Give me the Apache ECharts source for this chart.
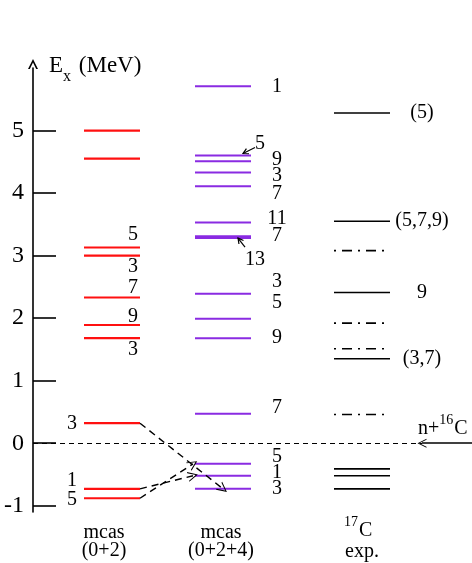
<!DOCTYPE html>
<html>
<head>
<meta charset="utf-8">
<script src="https://cdn.jsdelivr.net/npm/echarts@6/dist/echarts.min.js"></script>
<style>
  html, body { margin: 0; padding: 0; background: #fff; }
  #levels { width: 472px; height: 563px; }
</style>
</head>
<body>
<div id="levels"></div>
<script>
// level energies (MeV) and spin labels (2J) per column
const redE = [5.00, 4.55, 3.13, 3.00, 2.33, 1.89, 1.68, 0.32, -0.73, -0.88];
const redSpin = ['', '', '5', '3', '7', '9', '3', '3', '1', '5'];
const purpleE = [5.71, 4.60, 4.51, 4.33, 4.11, 3.53, 3.31, 3.28, 2.39, 1.99, 1.68, 0.47, -0.33, -0.52, -0.73];
const purpleSpin = ['1', '5', '9', '3', '7', '11', '7', '13', '3', '5', '9', '7', '5', '1', '3'];
const expE = [5.28, 3.55, 3.08, 2.41, 1.92, 1.51, 1.35, 0.46, -0.41, -0.52, -0.73];
const expSpin = ['(5)', '(5,7,9)', '', '9', '', '', '(3,7)', '', '', '', ''];
const expTentative = [false, false, true, false, true, true, false, true, false, false, false];
// transitions: [red level index, purple level index]
const transitions = [[7, 14], [8, 13], [9, 12]];
const yTicks = [-1, 0, 1, 2, 3, 4, 5];

// layout (x axis runs in pixels from the y axis)
const cols = { red: [51, 107], purple: [162, 218], exp: [301, 357] };
const redLabelPos = [null, null, [-7, -13], [-7, 11], [-7, -10], [-7, -8], [-7, 12], [-68, 1], [-68, -8], [-68, 2]];
const purpleLabelPos = [[26, 1], [9, -12], [26, -1], [26, 3], [26, 8], [26, -4], [26, 0], [4, 22],
  [26, -12], [26, -16], [26, 0], [26, -6], [26, -7], [26, -3], [26, 0]];
// small pointer arrows: index -> [tailDx, tailDy, tipDx, tipDy] relative to line end
const purplePointers = { 1: [4, -8, -8, -2], 7: [-6, 9, -13, 0] };
const arrowEndX = [190, 160, 160];

const FONT = '"Liberation Serif", "Times New Roman", serif';
const chevron = 'path://M0,12 L6,0 L12,12 L10.6,12 L6,2.6 L1.4,12 Z';
const axisChevron = 'path://M0,12 L6,0 L12,12 L9.8,12 L6,4.2 L2.2,12 Z';

function makeLevels(name, E, spins, range, color, width, labelPos, dashFn, pointers) {
  return {
    name: name,
    type: 'custom',
    clip: false,
    data: E.map((e, i) => [i, e]),
    renderItem: function (params, api) {
      const i = api.value(0);
      const e = api.value(1);
      const a = api.coord([range[0], e]);
      const b = api.coord([range[1], e]);
      const children = [{
        type: 'line',
        shape: { x1: a[0], y1: a[1], x2: b[0], y2: b[1] },
        style: { stroke: color, lineWidth: width, lineDash: dashFn ? dashFn(i) : null }
      }];
      const lp = labelPos[i];
      if (spins[i] && lp) {
        children.push({
          type: 'text',
          x: b[0] + lp[0], y: b[1] + lp[1],
          style: { text: spins[i], font: '20px ' + FONT, fill: '#000', align: 'center', verticalAlign: 'middle' }
        });
      }
      if (pointers && pointers[i]) {
        const p = pointers[i];
        const tx = b[0] + p[2], ty = b[1] + p[3];
        const ang = Math.atan2(b[1] + p[1] - ty, b[0] + p[0] - tx);
        const h = 6, s = 0.5;
        children.push({
          type: 'polyline',
          shape: { points: [[b[0] + p[0], b[1] + p[1]], [tx, ty]] },
          style: { stroke: '#000', lineWidth: 1.2, fill: null }
        }, {
          type: 'polyline',
          shape: { points: [
            [tx + h * Math.cos(ang + s), ty + h * Math.sin(ang + s)],
            [tx, ty],
            [tx + h * Math.cos(ang - s), ty + h * Math.sin(ang - s)]
          ] },
          style: { stroke: '#000', lineWidth: 1.2, fill: null }
        });
      }
      return { type: 'group', children: children };
    }
  };
}

const chart = echarts.init(document.getElementById('levels'), null, { renderer: 'canvas' });

const option = {
  animation: false,
  backgroundColor: '#fff',
  grid: { left: 33, right: 0, top: 68, bottom: 51 },
  xAxis: { type: 'value', min: 0, max: 439, show: false },
  yAxis: {
    type: 'value',
    min: -1.1,
    max: 6.0,
    splitLine: { show: false },
    axisLine: {
      show: true,
      lineStyle: { color: '#000', width: 1.6 },
      symbol: ['none', axisChevron],
      symbolSize: [10, 10],
      symbolOffset: [0, 4]
    },
    axisTick: { show: true, inside: true, length: 23, customValues: yTicks, lineStyle: { color: '#000', width: 1.6 } },
    axisLabel: { customValues: yTicks, color: '#000', fontSize: 24, fontFamily: FONT, margin: 9 }
  },
  series: [
    {
      name: 'threshold',
      type: 'lines',
      coordinateSystem: 'cartesian2d',
      silent: true,
      lineStyle: { color: '#000', width: 1, type: [5, 4], opacity: 1 },
      symbol: 'none',
      data: [{ coords: [[0, 0], [389, 0]] }]
    },
    {
      name: 'n16C',
      type: 'lines',
      coordinateSystem: 'cartesian2d',
      silent: true,
      lineStyle: { color: '#000', width: 1.6, opacity: 1 },
      symbol: ['none', chevron],
      symbolSize: 9,
      data: [{ coords: [[439, 0], [389, 0]] }]
    },
    makeLevels('mcas (0+2)', redE, redSpin, cols.red, '#ff1010', 2.2, redLabelPos),
    makeLevels('mcas (0+2+4)', purpleE, purpleSpin, cols.purple, '#8a2be2', 2, purpleLabelPos, null, purplePointers),
    makeLevels('17C exp.', expE, expSpin, cols.exp, '#000', 1.6, expE.map(() => [32, 0]),
      (i) => expTentative[i] ? [2, 6, 10, 6] : null),
    {
      name: 'transitions',
      type: 'lines',
      coordinateSystem: 'cartesian2d',
      silent: true,
      lineStyle: { color: '#000', width: 1.4, type: [7, 5], opacity: 1 },
      symbol: ['none', chevron],
      symbolSize: 10,
      data: transitions.map((t, k) => ({ coords: [[cols.red[1], redE[t[0]]], [arrowEndX[k], purpleE[t[1]]]] }))
    }
  ],
  graphic: [
    {
      type: 'text', left: 49, top: 54,
      style: {
        text: '{e|E}{s|x}{e| (MeV)}',
        rich: {
          e: { font: '23px ' + FONT, fill: '#000', verticalAlign: 'bottom', lineHeight: 30 },
          s: { font: '16px ' + FONT, fill: '#000', verticalAlign: 'bottom', lineHeight: 22, padding: [0, 2, -8, 0] }
        }
      }
    },
    {
      type: 'text', left: 418, top: 413,
      style: {
        text: '{n|n+}{s|16}{n|C}',
        rich: {
          n: { font: '20px ' + FONT, fill: '#000', verticalAlign: 'bottom', lineHeight: 26 },
          s: { font: '14px ' + FONT, fill: '#000', verticalAlign: 'top', lineHeight: 14, padding: [0, 1, 10, 0] }
        }
      }
    },
    { type: 'text', x: 104, y: 533, style: { text: 'mcas', font: '20px ' + FONT, fill: '#000', align: 'center', verticalAlign: 'middle' } },
    { type: 'text', x: 104, y: 551, style: { text: '(0+2)', font: '20px ' + FONT, fill: '#000', align: 'center', verticalAlign: 'middle' } },
    { type: 'text', x: 221, y: 533, style: { text: 'mcas', font: '20px ' + FONT, fill: '#000', align: 'center', verticalAlign: 'middle' } },
    { type: 'text', x: 221, y: 551, style: { text: '(0+2+4)', font: '20px ' + FONT, fill: '#000', align: 'center', verticalAlign: 'middle' } },
    {
      type: 'text', left: 344, top: 515,
      style: {
        text: '{s|17}{n|C}',
        rich: {
          n: { font: '20px ' + FONT, fill: '#000', verticalAlign: 'bottom', lineHeight: 26 },
          s: { font: '14px ' + FONT, fill: '#000', verticalAlign: 'top', lineHeight: 14, padding: [0, 1, 10, 0] }
        }
      }
    },
    { type: 'text', x: 362, y: 552, style: { text: 'exp.', font: '20px ' + FONT, fill: '#000', align: 'center', verticalAlign: 'middle' } }
  ]
};

chart.setOption(option);
window.addEventListener('resize', function () {
  chart.resize();
});
</script>
</body>
</html>
